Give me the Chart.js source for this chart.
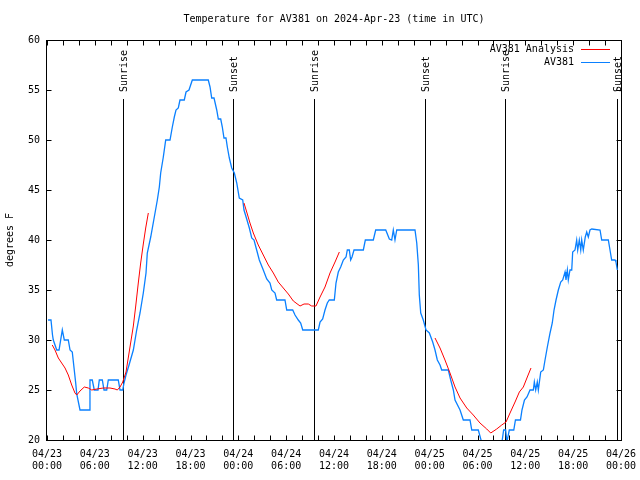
<!DOCTYPE html>
<html><head><meta charset="utf-8">
<script src="https://cdn.jsdelivr.net/npm/chart.js@4.4.1/dist/chart.umd.min.js"></script>
<style>html,body{margin:0;padding:0;background:#fff}canvas{display:block}</style>
</head><body>
<canvas id="c" width="640" height="480"></canvas>
<script>
// ---- data (hours since 2024-04-23 00:00 UTC) ----
const obsHours = [0.13,0.50,0.69,0.79,1.22,1.51,1.92,2.17,2.67,2.89,3.17,3.60,3.73,4.14,5.27,5.39,5.68,5.93,6.40,6.56,6.94,7.15,7.49,7.69,8.94,9.16,9.50,9.66,9.91,10.29,10.83,11.25,11.67,12.08,12.42,12.58,13.01,13.46,13.84,14.09,14.26,14.59,14.89,15.43,15.72,15.97,16.18,16.47,16.68,17.22,17.44,17.81,18.23,20.23,20.45,20.66,20.95,21.29,21.49,21.79,21.99,22.20,22.45,22.62,22.87,23.17,23.50,23.80,24.12,24.55,24.71,25.05,25.38,25.68,25.97,26.30,26.63,27.13,27.56,27.97,28.19,28.60,28.81,29.85,30.07,30.82,31.11,31.52,31.82,32.08,34.03,34.25,34.58,34.87,35.16,35.41,36.04,36.25,36.54,36.84,37.17,37.51,37.67,37.92,38.09,38.26,38.51,39.68,39.93,40.93,41.23,42.49,42.94,43.24,43.44,43.65,43.87,46.16,46.38,46.58,46.70,46.88,47.20,47.54,47.96,48.38,48.67,48.96,49.30,49.51,50.34,50.64,50.97,51.18,51.81,52.22,53.06,53.28,54.10,54.44,54.90,55.70,56.50,57.07,57.28,57.53,57.69,57.99,58.55,58.76,59.39,59.58,59.89,60.21,60.59,61.00,61.13,61.30,61.50,61.63,61.93,62.26,62.47,62.76,63.10,63.38,63.60,63.85,64.14,64.44,64.69,64.98,65.10,65.27,65.39,65.60,65.82,65.94,66.23,66.44,66.57,66.77,66.95,67.07,67.27,67.52,67.70,67.90,68.11,68.33,69.37,69.58,70.41,70.62,70.83,71.25,71.37,71.54];
const obsTemps = [32,32,30.5,30,29,29,31,30,30,29,28.8,25.7,24.6,23,23,26,26,25,25,26,26,25,25,26,26,25,25,25.7,26.5,27.5,29,31,32.7,34.7,36.7,38.7,40.3,42.3,44,45.3,46.7,48.3,50,50,51.3,52.3,53,53.2,54,54,54.8,55,56,56,55.3,54.2,54.2,53,52.1,52.1,51.3,50.2,50.2,49.3,48.2,47.2,46.7,45.7,44.2,44,43,42.1,41.2,40.2,40,39,38,37,36.1,35.7,35,34.7,34,34,33,33,32.5,32,31.7,31,31,31.8,32.1,33,33.7,34,34,35.7,36.8,37.3,38,38.3,39,39,38,38.3,39,39,40,40,41,41,40.1,40,41,40,41,41,39.7,37.5,34.5,32.7,32,31,30.7,29.8,29,28,27.5,27,27,26,25,24,23,22,22,21,21,20,19.5,19,19,19.8,21,21,19.8,21,21,22,22,23,24,24.3,25,25,25.8,25,25.8,25,26.8,27,28,29.3,30.7,31.7,33,34,35,35.8,36,36.8,36,37,36,37,37,38.8,39,40,39,40,39,40,39,40.3,40.8,40.3,41,41.1,41,40,40,39,38,38,37.8,37];
const anaHours = [0.66,1.00,1.42,1.84,2.26,2.67,3.10,3.51,3.73,4.14,4.68,5.18,5.61,6.23,7.06,7.90,8.53,8.82,9.16,9.50,9.91,10.41,10.83,11.13,11.45,11.75,12.08,12.38,12.71,18,24.71,25.05,25.46,25.88,26.50,27.13,27.76,28.39,29.01,29.64,30.27,30.90,31.74,32.24,32.78,33.20,33.74,34.25,34.87,35.50,36.13,36.67,42,48.67,49.30,49.92,50.55,51.18,51.81,52.65,53.47,54.31,55.16,55.66,56.41,57.04,57.58,58.08,58.71,59.25,59.75,60.25,60.71];
const anaTemps = [29.5,29,28.2,27.7,27.2,26.5,25.5,24.7,24.5,24.9,25.3,25.2,25.0,25.1,25.2,25.2,25.1,25.0,25.3,25.8,26.8,29.3,31.4,33.4,35.7,37.7,39.6,41.2,42.7,null,43.7,42.8,41.7,40.7,39.5,38.5,37.5,36.7,35.8,35.2,34.6,33.9,33.4,33.6,33.6,33.4,33.4,34.3,35.3,36.7,37.8,38.8,null,30.2,29.2,28,26.7,25.3,24.2,23.2,22.5,21.7,21.1,20.7,21.1,21.5,21.8,22.7,23.8,24.8,25.3,26.3,27.2];
const eventHours = [9.57,23.37,33.53,47.45,57.49,71.54];
const eventNames = ['Sunrise','Sunset','Sunrise','Sunset','Sunrise','Sunset'];
const tickDates = ['04/23','04/23','04/23','04/23','04/24','04/24','04/24','04/24','04/25','04/25','04/25','04/25','04/26'];
const tickTimes = ['00:00','06:00','12:00','18:00','00:00','06:00','12:00','18:00','00:00','06:00','12:00','18:00','00:00'];
const seriesNames = ['AV381 Analysis','AV381'];
const titleText = 'Temperature for AV381 on 2024-Apr-23 (time in UTC)';

const FONT = "'DejaVu Sans Mono','Liberation Mono',monospace";
const RED = '#ff0000', BLUE = '#0a80ff';

const overlay = {
  id: 'overlay',
  beforeDatasetsDraw(chart) {
    const ctx = chart.ctx, xs = chart.scales.x, ys = chart.scales.y, ca = chart.chartArea;
    ctx.save();
    ctx.strokeStyle = '#000'; ctx.lineWidth = 1;
    ctx.fillStyle = '#000';
    ctx.font = '10px ' + FONT;
    eventHours.forEach((h, i) => {
      const px = Math.round(xs.getPixelForValue(h)) + 0.5;
      ctx.beginPath();
      ctx.moveTo(px, 99); ctx.lineTo(px, ca.bottom);
      ctx.stroke();
      ctx.save();
      ctx.translate(px + 1, 92);
      ctx.rotate(-Math.PI / 2);
      ctx.textAlign = 'left'; ctx.textBaseline = 'middle';
      ctx.fillText(eventNames[i], 0, 0);
      ctx.restore();
    });
    ctx.restore();
  },
  afterDraw(chart) {
    const ctx = chart.ctx, xs = chart.scales.x, ys = chart.scales.y, ca = chart.chartArea;
    ctx.save();
    ctx.strokeStyle = '#000'; ctx.lineWidth = 1;
    const L = Math.round(ca.left) - 0.5, R = Math.round(ca.right) + 0.5;
    const T = Math.round(ca.top) + 0.5, B = Math.round(ca.bottom) + 0.5;
    ctx.strokeRect(L, T, R - L, B - T);
    ctx.beginPath();
    for (let h = 0; h <= 72; h += 2) {
      const px = Math.round(xs.getPixelForValue(h)) + 0.5;
      ctx.moveTo(px, B); ctx.lineTo(px, B - 5);
      ctx.moveTo(px, T); ctx.lineTo(px, T + 5);
    }
    for (let v = 20; v <= 60; v += 5) {
      const py = Math.round(ys.getPixelForValue(v)) + 0.5;
      ctx.moveTo(L, py); ctx.lineTo(L + 5, py);
      ctx.moveTo(R, py); ctx.lineTo(R - 5, py);
    }
    ctx.stroke();
    // legend
    ctx.font = '10px ' + FONT;
    ctx.textAlign = 'right'; ctx.textBaseline = 'middle';
    chart.data.datasets.forEach((ds, i) => {
      const y = 49 + 13 * i;
      ctx.fillStyle = '#000';
      ctx.fillText(ds.label, 574, y);
      ctx.strokeStyle = ds.borderColor; ctx.lineWidth = 1;
      ctx.beginPath(); ctx.moveTo(581, y + 0.5); ctx.lineTo(610, y + 0.5); ctx.stroke();
    });
    // title
    ctx.fillStyle = '#000';
    ctx.textAlign = 'center';
    ctx.fillText(titleText, (ca.left + ca.right) / 2, 19);
    ctx.restore();
  }
};

new Chart(document.getElementById('c'), {
  type: 'line',
  data: {
    datasets: [
      { label: seriesNames[0], data: anaHours.map((h, i) => ({x: h, y: anaTemps[i]})),
        borderColor: RED, borderWidth: 1, pointRadius: 0, spanGaps: false, fill: false },
      { label: seriesNames[1], data: obsHours.map((h, i) => ({x: h, y: obsTemps[i]})),
        borderColor: BLUE, borderWidth: 1.3, pointRadius: 0, fill: false }
    ]
  },
  options: {
    responsive: false, animation: false, devicePixelRatio: 1,
    layout: { padding: { top: 40, right: 19, left: 0, bottom: 0 } },
    plugins: { legend: { display: false }, title: { display: false }, tooltip: { enabled: false } },
    elements: { line: { tension: 0 } },
    scales: {
      x: {
        type: 'linear', min: 0, max: 72,
        border: { display: false }, grid: { display: false, drawTicks: false },
        ticks: { stepSize: 6, autoSkip: false, maxRotation: 0, minRotation: 0, padding: 8, color: '#000',
          font: { family: FONT, size: 10, lineHeight: 1.25 },
          callback: (v) => { const i = Math.round(v / 6); return [tickDates[i], tickTimes[i]]; } },
        afterFit(s) { s.height = 40; s.paddingLeft = 0; s.paddingRight = 0; }
      },
      y: {
        min: 20, max: 60,
        border: { display: false }, grid: { display: false, drawTicks: false },
        ticks: { stepSize: 5, padding: 7, color: '#000', font: { family: FONT, size: 10 } },
        title: { display: true, text: 'degrees F', color: '#000', font: { family: FONT, size: 10 }, padding: { top: 4, bottom: 0 } },
        afterFit(s) { s.width = 47; s.paddingTop = 0; s.paddingBottom = 0; }
      }
    }
  },
  plugins: [overlay]
});
</script>
</body></html>
